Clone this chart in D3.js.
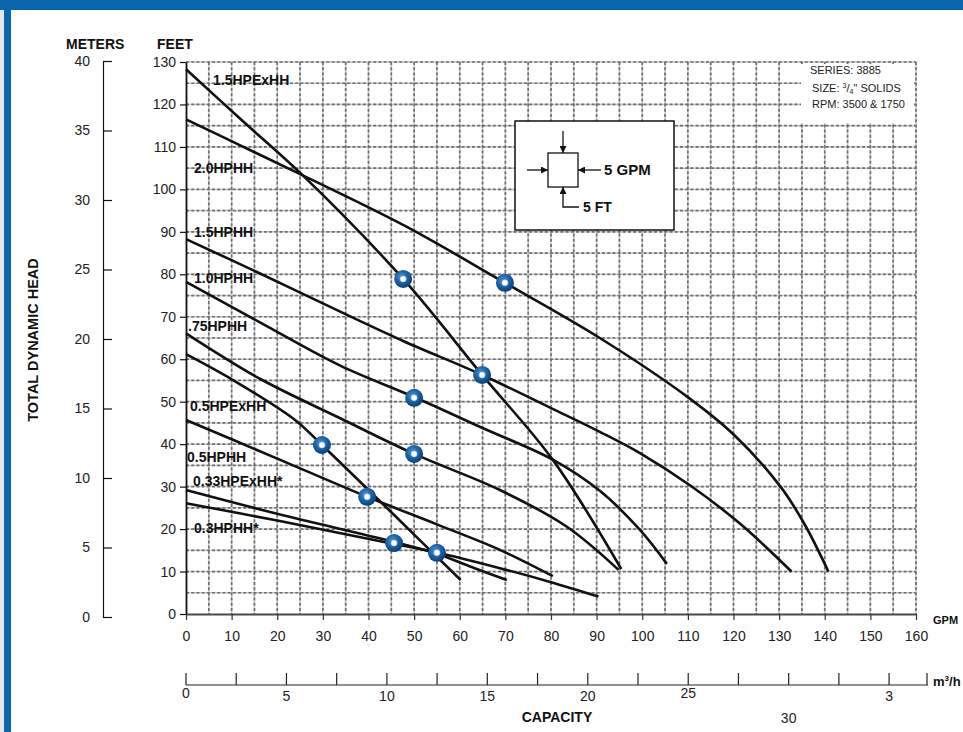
<!DOCTYPE html>
<html>
<head>
<meta charset="utf-8">
<script src="https://cdn.jsdelivr.net/npm/d3@7"></script>
<style>
    body { margin: 0; background: #fff; }
    svg { display: block; font-family: "Liberation Sans", Arial, Helvetica, sans-serif; }
</style>
</head>
<body>
<svg id="chart" width="963" height="732"></svg>
<script>
// Pump curves: capacity (GPM) vs total dynamic head (ft)
var curveNames = ["1.5HPExHH", "2.0HPHH", "1.5HPHH", "1.0HPHH", ".75HPHH", "0.5HPExHH", "0.5HPHH", "0.33HPExHH*", "0.3HPHH*"];

var curve15ExHH = [[0, 128.3], [12, 116.5], [25.6, 103.3], [47.6, 78.9], [64.9, 56.3], [80.4, 36.3], [95.4, 10.6]];
var curve20HH = [[0, 116.5], [12, 110.3], [25.6, 103.3], [48, 91.4], [69.9, 78], [90.7, 65], [110.2, 50.9], [120.2, 42.1], [130.5, 29.7], [135.7, 20.9], [140.8, 10]];
var curve15HH = [[0, 88.3], [16, 80.3], [33.8, 71.2], [47.6, 64.3], [64.9, 56.3], [80, 48.5], [90.7, 42.9], [99.5, 37.9], [110.6, 30.2], [121.4, 21.3], [132.7, 10]];
var curve10HH = [[0, 78.2], [16, 68.8], [33.8, 58.5], [50, 51.1], [65, 43.8], [80.5, 36.3], [90.7, 29], [99.5, 19.8], [105.4, 11.8]];
var curve075HH = [[0, 66.1], [16.2, 55.4], [33.8, 46.1], [50, 37.7], [68.8, 29.2], [83.4, 20.6], [94.8, 10.4]];
var curve05ExHH = [[0, 61.2], [10.3, 55.1], [23.9, 45.7], [29.8, 39.8], [40, 29.2], [50, 18.7], [60.2, 8.0]];
var curve05HH = [[0, 45.7], [20, 36.6], [39.7, 27.6], [55, 21.1], [68.8, 15.1], [80.4, 8.9]];
var curve033ExHH = [[0, 29.2], [20, 23.6], [45.6, 17.0], [55, 14.2], [62, 11.3], [70.3, 8.0]];
var curve03HH = [[0, 26.1], [20, 22.0], [45.6, 16.5], [55, 14.5], [68.8, 10.8], [80, 7.5], [90.4, 4.1]];

// best efficiency markers
var markerGpm = [47.6, 69.9, 64.9, 50, 29.8, 50, 39.7, 45.6, 55];
var markerFt = [78.9, 78, 56.3, 50.9, 39.8, 37.7, 27.6, 16.7, 14.4];

// tick labels
var feetTicks = [0, 10, 20, 30, 40, 50, 60, 70, 80, 90, 100, 110, 120, 130];
var meterTicks = [0, 5, 10, 15, 20, 25, 30, 35, 40];
var gpmTicks = [0, 10, 20, 30, 40, 50, 60, 70, 80, 90, 100, 110, 120, 130, 140, 150, 160];
var m3Ticks = [0, 2.5, 5, 7.5, 10, 12.5, 15, 17.5, 20, 22.5, 25, 27.5, 30, 32.5, 35];
var m3LabelValues = [0, 5, 10, 15, 20, 25, 30, 35];
var m3LabelTexts = ["0", "5", "10", "15", "20", "25", "30", "3"];

var curves = [curve15ExHH, curve20HH, curve15HH, curve10HH, curve075HH, curve05ExHH, curve05HH, curve033ExHH, curve03HH];

// ---- layout ----
var svg = d3.select("#chart");
var plotLeft = 186, plotRight = 916, plotTop = 62, plotBottom = 614;
var GPM_PER_M3H = 4.403;

var x = d3.scaleLinear().domain([0, 160]).range([plotLeft, plotRight]);
var y = d3.scaleLinear().domain([0, 130]).range([plotBottom, plotTop]);
var yMeters = d3.scaleLinear().domain([0, 40]).range([617, 61]);
var xM3 = d3.scaleLinear().domain([0, 160 / GPM_PER_M3H]).range([plotLeft, plotRight]);

// label anchors (px) for the curve names, same order as curveNames
var labelPos = [[213, 85], [194, 173], [194, 237], [194, 283], [188, 331], [190, 411], [187, 462], [193, 486], [194, 533]];
var m3LabelDy = [-3, 0, 0, 0, 0, -3, 22, 0];

// frame
svg.append("rect").attr("x", 0).attr("y", 0).attr("width", 963).attr("height", 732).attr("fill", "#fff");
svg.append("rect").attr("x", 0).attr("y", 0).attr("width", 4).attr("height", 732).attr("fill", "#e4e8ec");
svg.append("rect").attr("x", 4).attr("y", 0).attr("width", 7).attr("height", 732).attr("fill", "#0a66ae");
svg.append("rect").attr("x", 0).attr("y", 0).attr("width", 963).attr("height", 10).attr("fill", "#0a66ae");

// grid: light solid line under a dark dashed one
var gridGpm = d3.range(5, 161, 5);
var gridFt = d3.range(5, 131, 5);

function drawGrid(g) {
    g.selectAll(".v").data(gridGpm).enter().append("line")
        .attr("class", "v")
        .attr("x1", function (d) { return x(d); })
        .attr("x2", function (d) { return x(d); })
        .attr("y1", plotTop).attr("y2", plotBottom);
    g.selectAll(".h").data(gridFt).enter().append("line")
        .attr("class", "h")
        .attr("y1", function (d) { return y(d); })
        .attr("y2", function (d) { return y(d); })
        .attr("x1", plotLeft).attr("x2", plotRight);
}
drawGrid(svg.append("g").attr("stroke", "#cacaca").attr("stroke-width", 1.5));
drawGrid(svg.append("g").attr("stroke", "#6f6f6f").attr("stroke-width", 1.7).attr("stroke-dasharray", "3,2.2"));

// white panel behind the series info
svg.append("rect").attr("x", 801).attr("y", 64).attr("width", 113).attr("height", 59).attr("fill", "#fff");
var info = svg.append("g").attr("font-size", 11).attr("fill", "#222");
info.append("text").attr("x", 810).attr("y", 74).text("SERIES: 3885");
var sizeText = info.append("text").attr("x", 812).attr("y", 92);
sizeText.append("tspan").text("SIZE: ");
sizeText.append("tspan").attr("font-size", 7).attr("dy", -4).text("3");
sizeText.append("tspan").attr("dy", 4).text("/");
sizeText.append("tspan").attr("font-size", 7).attr("dy", 2).text("4");
sizeText.append("tspan").attr("dy", -2).text("\" SOLIDS");
info.append("text").attr("x", 812).attr("y", 108).text("RPM: 3500 & 1750");

// scale legend box: 5 GPM / 5 FT
var defs = svg.append("defs");
defs.append("marker")
    .attr("id", "arrow")
    .attr("viewBox", "0 0 10 10")
    .attr("refX", 10).attr("refY", 5)
    .attr("markerUnits", "userSpaceOnUse")
    .attr("markerWidth", 7).attr("markerHeight", 7)
    .attr("orient", "auto")
    .append("path").attr("d", "M0,0 L10,5 L0,10 z").attr("fill", "#111");

var box = svg.append("g");
box.append("rect").attr("x", 515).attr("y", 121).attr("width", 159).attr("height", 109)
    .attr("fill", "#fff").attr("stroke", "#111").attr("stroke-width", 1.5);
box.append("rect").attr("x", 548).attr("y", 153).attr("width", 30).attr("height", 34)
    .attr("fill", "none").attr("stroke", "#111").attr("stroke-width", 1.3);
box.append("line").attr("x1", 563).attr("y1", 131).attr("x2", 563).attr("y2", 153)
    .attr("stroke", "#111").attr("stroke-width", 1.3).attr("marker-end", "url(#arrow)");
box.append("line").attr("x1", 527).attr("y1", 170).attr("x2", 548).attr("y2", 170)
    .attr("stroke", "#111").attr("stroke-width", 1.3).attr("marker-end", "url(#arrow)");
box.append("line").attr("x1", 601).attr("y1", 170).attr("x2", 578).attr("y2", 170)
    .attr("stroke", "#111").attr("stroke-width", 1.3).attr("marker-end", "url(#arrow)");
box.append("path").attr("d", "M579,207 H563 V187")
    .attr("fill", "none").attr("stroke", "#111").attr("stroke-width", 1.3).attr("marker-end", "url(#arrow)");
box.append("text").attr("x", 604).attr("y", 175).attr("font-size", 15).attr("font-weight", "bold").attr("fill", "#111").text("5 GPM");
box.append("text").attr("x", 583).attr("y", 212).attr("font-size", 14).attr("font-weight", "bold").attr("fill", "#111").text("5 FT");

// axes
var axisFeet = svg.append("g")
    .attr("transform", "translate(" + plotLeft + ",0)")
    .call(d3.axisLeft(y).tickValues(feetTicks).tickSizeInner(6).tickSizeOuter(0).tickPadding(4));
axisFeet.select(".domain").attr("stroke", "#111").attr("stroke-width", 1.8);
axisFeet.selectAll(".tick line").attr("stroke", "#111").attr("stroke-width", 1.2);
axisFeet.selectAll("text").attr("font-size", 14).attr("fill", "#222").attr("font-family", null);

var axisMeters = svg.append("g")
    .attr("transform", "translate(103,0)")
    .call(d3.axisLeft(yMeters).tickValues(meterTicks).tickSizeInner(-9).tickSizeOuter(0).tickPadding(13));
axisMeters.select(".domain").attr("stroke", "#111").attr("stroke-width", 1.2);
axisMeters.selectAll(".tick line").attr("stroke", "#111").attr("stroke-width", 1.2);
axisMeters.selectAll("text").attr("font-size", 14).attr("fill", "#222").attr("font-family", null);

var axisGpm = svg.append("g")
    .attr("transform", "translate(0," + plotBottom + ")")
    .call(d3.axisBottom(x).tickValues(gpmTicks).tickSizeInner(6).tickSizeOuter(0).tickPadding(11));
axisGpm.select(".domain").attr("stroke", "#4a4a4a").attr("stroke-width", 2.2);
axisGpm.selectAll(".tick line").attr("stroke", "#333").attr("stroke-width", 1.2);
axisGpm.selectAll("text").attr("font-size", 14).attr("fill", "#222").attr("font-family", null);

// m3/h axis, drawn by hand with the xM3 scale
var axisM3 = svg.append("g");
axisM3.append("line").attr("x1", plotLeft).attr("x2", 928).attr("y1", 685).attr("y2", 685)
    .attr("stroke", "#222").attr("stroke-width", 1.2);
axisM3.append("line").attr("x1", 927).attr("x2", 927).attr("y1", 673).attr("y2", 685)
    .attr("stroke", "#222").attr("stroke-width", 1.2);
axisM3.selectAll(".tk").data(m3Ticks).enter().append("line")
    .attr("x1", function (d) { return xM3(d); })
    .attr("x2", function (d) { return xM3(d); })
    .attr("y1", 673).attr("y2", 685)
    .attr("stroke", "#222").attr("stroke-width", 1.2);
axisM3.selectAll(".lb").data(m3LabelValues).enter().append("text")
    .attr("x", function (d) { return xM3(d); })
    .attr("y", function (d, i) { return 701 + m3LabelDy[i]; })
    .attr("text-anchor", "middle")
    .attr("font-size", 14).attr("fill", "#222")
    .text(function (d, i) { return m3LabelTexts[i]; });

// axis titles
var titles = svg.append("g").attr("font-weight", "bold").attr("fill", "#111");
titles.append("text").attr("x", 66).attr("y", 49).attr("font-size", 14).text("METERS");
titles.append("text").attr("x", 157).attr("y", 49).attr("font-size", 14).text("FEET");
titles.append("text").attr("transform", "translate(38,340) rotate(-90)")
    .attr("text-anchor", "middle").attr("font-size", 14.5).text("TOTAL DYNAMIC HEAD");
titles.append("text").attr("x", 557).attr("y", 722).attr("text-anchor", "middle").attr("font-size", 14).text("CAPACITY");
titles.append("text").attr("x", 933).attr("y", 624).attr("font-size", 11).text("GPM");
var m3Title = titles.append("text").attr("x", 933).attr("y", 686).attr("font-size", 13);
m3Title.append("tspan").text("m");
m3Title.append("tspan").attr("font-size", 8).attr("dy", -5).text("3");
m3Title.append("tspan").attr("dy", 5).text("/h");

// pump curves
var line = d3.line()
    .x(function (d) { return x(d[0]); })
    .y(function (d) { return y(d[1]); })
    .curve(d3.curveCatmullRom.alpha(0.5));

svg.append("g").selectAll("path").data(curves).enter().append("path")
    .attr("d", line)
    .attr("fill", "none")
    .attr("stroke", "#111")
    .attr("stroke-width", 2.6)
    .attr("stroke-linejoin", "round");

// curve names
svg.append("g").selectAll("text").data(curveNames).enter().append("text")
    .attr("x", function (d, i) { return labelPos[i][0]; })
    .attr("y", function (d, i) { return labelPos[i][1]; })
    .attr("font-size", 14).attr("font-weight", "bold").attr("fill", "#111")
    .text(function (d) { return d; });

// markers
var grad = defs.append("radialGradient").attr("id", "dot").attr("cx", "42%").attr("cy", "38%").attr("r", "62%");
grad.append("stop").attr("offset", "0%").attr("stop-color", "#4d97d4");
grad.append("stop").attr("offset", "55%").attr("stop-color", "#1a62a6");
grad.append("stop").attr("offset", "100%").attr("stop-color", "#0a3f78");

var dots = svg.append("g").selectAll("g").data(markerGpm).enter().append("g")
    .attr("transform", function (d, i) { return "translate(" + x(d) + "," + y(markerFt[i]) + ")"; });
dots.append("circle").attr("r", 9).attr("fill", "url(#dot)");
dots.append("circle").attr("r", 3).attr("fill", "#fff").attr("stroke", "#b8c8d8").attr("stroke-width", 0.6);
</script>
</body>
</html>
